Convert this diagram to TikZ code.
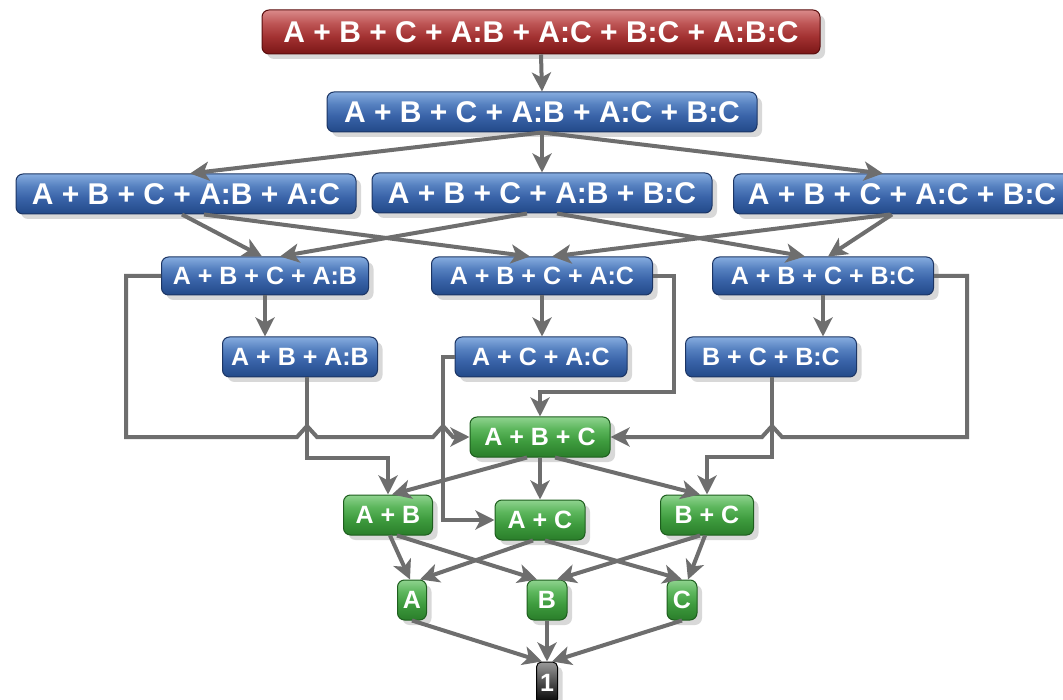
\documentclass[tikz,border=0pt]{standalone}
\usepackage{fontspec}
\setmainfont{Liberation Sans}
\usetikzlibrary{arrows.meta,shadows}
\definecolor{arrgray}{HTML}{6E6E6E}
\definecolor{blueB}{HTML}{224988}
\definecolor{blueM}{HTML}{3963A8}
\definecolor{blueL}{HTML}{5681C0}
\definecolor{blueT}{HTML}{86ACDF}
\definecolor{blueD}{HTML}{1C3564}
\definecolor{redB}{HTML}{7A1616}
\definecolor{redM}{HTML}{A33232}
\definecolor{redL}{HTML}{BE5555}
\definecolor{redT}{HTML}{DA8A8A}
\definecolor{redD}{HTML}{5A0E0E}
\definecolor{greenB}{HTML}{2A7D2A}
\definecolor{greenM}{HTML}{3E9C3E}
\definecolor{greenL}{HTML}{5CB65C}
\definecolor{greenT}{HTML}{8FD38F}
\definecolor{greenD}{HTML}{1E5E1E}
\definecolor{blackT}{HTML}{9A9A9A}
\definecolor{blackM}{HTML}{3A3A3A}
\pgfdeclareverticalshading{blueglass}{100bp}{color(0bp)=(blueB); color(25bp)=(blueB); color(45bp)=(blueM); color(60bp)=(blueL); color(75bp)=(blueT); color(100bp)=(blueT)}
\pgfdeclareverticalshading{redglass}{100bp}{color(0bp)=(redB); color(25bp)=(redB); color(45bp)=(redM); color(60bp)=(redL); color(75bp)=(redT); color(100bp)=(redT)}
\pgfdeclareverticalshading{greenglass}{100bp}{color(0bp)=(greenB); color(25bp)=(greenB); color(45bp)=(greenM); color(60bp)=(greenL); color(75bp)=(greenT); color(100bp)=(greenT)}
\pgfdeclareverticalshading{blackglass}{100bp}{color(0bp)=(black); color(25bp)=(black); color(45bp)=(blackM); color(75bp)=(blackT); color(100bp)=(blackT)}
\newcommand\fbig{\fontsize{30}{32}\selectfont\bfseries}
\newcommand\fsmall{\fontsize{25}{27}\selectfont\bfseries}
\tikzset{
  base/.style={rounded corners=7pt, inner sep=0pt, text=white, line width=1pt,
    drop shadow={shadow xshift=5pt, shadow yshift=-5pt, opacity=0.3}},
  redbox/.style={base, draw=redD, shade, shading=redglass, font=\fbig},
  bluebig/.style={base, draw=blueD, shade, shading=blueglass, font=\fbig, minimum height=40pt},
  bluesmall/.style={base, draw=blueD, shade, shading=blueglass, font=\fsmall, minimum height=38pt},
  greenbox/.style={base, draw=greenD, shade, shading=greenglass, font=\fsmall, minimum height=40pt},
  blackbox/.style={base, rounded corners=5pt, draw=black, shade, shading=blackglass, font=\fsmall},
  arr/.style={draw=arrgray, line width=4pt, -{Stealth[length=19pt,width=19pt,inset=5pt]}},
}
\begin{document}
\begin{tikzpicture}[x=1pt,y=-1pt]
\fill[white] (0,0) rectangle (1063,700);
\useasboundingbox (0,0) rectangle (1063,700);
% nodes
\node[redbox, minimum width=558pt, minimum height=44pt] (top) at (541,32) {A + B + C + A:B + A:C + B:C + A:B:C};
\node[bluebig, minimum width=430pt] (L1) at (542,112) {A + B + C + A:B + A:C + B:C};
\node[bluebig, minimum width=340pt] (L2a) at (186,194) {A + B + C + A:B + A:C};
\node[bluebig, minimum width=340pt] (L2b) at (542,193) {A + B + C + A:B + B:C};
\node[bluebig, minimum width=337pt] (L2c) at (902,194) {A + B + C + A:C + B:C};
\node[bluesmall, minimum width=207pt] (L3a) at (265,276) {A + B + C + A:B};
\node[bluesmall, minimum width=221pt] (L3b) at (542,276) {A + B + C + A:C};
\node[bluesmall, minimum width=221pt] (L3c) at (823,276) {A + B + C + B:C};
\node[bluesmall, minimum width=155pt, minimum height=40pt] (L4a) at (300,357) {A + B + A:B};
\node[bluesmall, minimum width=172pt, minimum height=40pt] (L4b) at (541,357) {A + C + A:C};
\node[bluesmall, minimum width=171pt, minimum height=40pt] (L4c) at (771,357) {B + C + B:C};
\node[greenbox, minimum width=140pt] (ABC) at (540,437) {A + B + C};
\node[greenbox, minimum width=89pt] (AB) at (388,515) {A + B};
\node[greenbox, minimum width=90pt] (AC) at (540,520) {A + C};
\node[greenbox, minimum width=93pt] (BC) at (707,515) {B + C};
\node[greenbox, minimum width=29pt] (A) at (412,600) {A};
\node[greenbox, minimum width=40pt] (B) at (547,600) {B};
\node[greenbox, minimum width=30pt] (C) at (682,600) {C};
\node[blackbox, minimum width=21pt, minimum height=42pt] (one) at (547,683) {1};
% edges
\draw[arr] (top.south) -- (L1.north);
\draw[arr] (L1.south) -- ([xshift=4pt]L2a.north);
\draw[arr] (L1.south) -- (L2b.north);
\draw[arr] (L1.south) -- ([xshift=-19pt]L2c.north);
\draw[arr] ([xshift=-4pt]L2a.south) -- ([xshift=-3pt]L3a.north);
\draw[arr] ([xshift=18pt]L2a.south) -- ([xshift=-12pt]L3b.north);
\draw[arr] ([xshift=-15pt]L2b.south) -- ([xshift=15pt]L3a.north);
\draw[arr] ([xshift=15pt]L2b.south) -- ([xshift=-18pt]L3c.north);
\draw[arr] ([xshift=-12pt]L2c.south) -- ([xshift=10pt]L3b.north);
\draw[arr] ([xshift=-10pt]L2c.south) -- ([xshift=5pt]L3c.north);
\draw[arr] (L3a.south) -- (L3a.south |- L4a.north);
\draw[arr] (L3b.south) -- (L3b.south |- L4b.north);
\draw[arr] (L3c.south) -- (L3c.south |- L4c.north);
\draw[arr] (L3a.west) -- (126,276) -- (126,437) -- (297,437) -- (307,426) -- (317,437) -- (433,437) -- (443,426) -- (453,437) -- (ABC.west);
\draw[arr] (L3b.east) -- (674,276) -- (674,392) -| (ABC.north);
\draw[arr] (L3c.east) -- (967,276) -- (967,437) -- (782,437) -- (772,426) -- (762,437) -- (ABC.east);
\draw[arr] ([xshift=7pt]L4a.south) -- (307,458) -| (AB.north);
\draw[arr] (L4b.west) -- (443,357) |- (AC.west);
\draw[arr] ([xshift=1pt]L4c.south) -- (772,457) -| (BC.north);
\draw[arr] ([xshift=-13pt]ABC.south) -- ([xshift=4pt]AB.north);
\draw[arr] (ABC.south) -- (AC.north);
\draw[arr] ([xshift=15pt]ABC.south) -- ([xshift=-7pt]BC.north);
\draw[arr] ([xshift=2pt]AB.south) -- ([xshift=-2pt]A.north);
\draw[arr] ([xshift=9pt]AB.south) -- ([xshift=-10pt]B.north);
\draw[arr] ([xshift=-7pt]AC.south) -- ([xshift=8pt]A.north);
\draw[arr] ([xshift=5pt]AC.south) -- (C.north);
\draw[arr] ([xshift=-7pt]BC.south) -- ([xshift=10pt]B.north);
\draw[arr] ([xshift=-2pt]BC.south) -- ([xshift=6pt]C.north);
\draw[arr] (A.south) -- ([xshift=-5pt]one.north);
\draw[arr] (B.south) -- (one.north);
\draw[arr] (C.south) -- ([xshift=5pt]one.north);
\end{tikzpicture}
\end{document}
